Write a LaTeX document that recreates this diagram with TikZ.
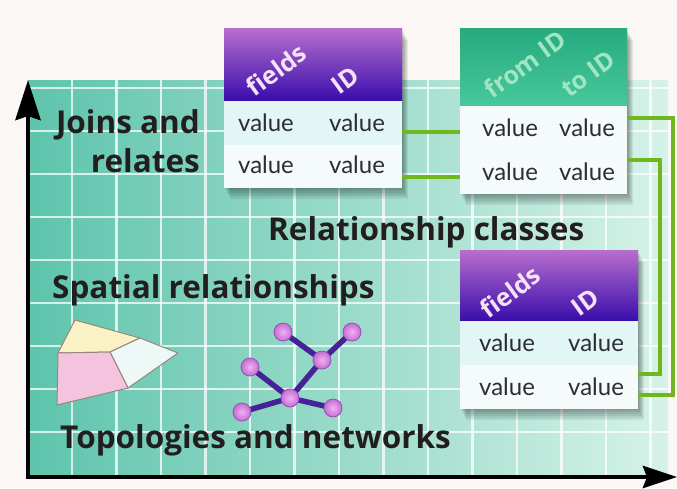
\documentclass[tikz,border=0pt]{standalone}
\usepackage{fontspec}
\setmainfont{Lato}
\newfontfamily\lblfont{Open Sans}
\usetikzlibrary{arrows.meta,calc}
\definecolor{bgc}{RGB}{251,247,244}
\definecolor{tealL}{RGB}{94,196,172}
\definecolor{tealR}{RGB}{214,242,232}
\definecolor{purTop}{RGB}{184,110,206}
\definecolor{purBot}{RGB}{58,14,172}
\definecolor{grnTop}{RGB}{40,170,128}
\definecolor{grnBot}{RGB}{70,200,155}
\definecolor{rowA}{RGB}{226,246,246}
\definecolor{rowB}{RGB}{244,251,250}
\definecolor{connG}{RGB}{112,182,28}
\definecolor{txtD}{RGB}{34,30,30}
\definecolor{valT}{RGB}{45,45,50}
\definecolor{netL}{RGB}{70,34,150}
\definecolor{ballC}{RGB}{242,176,242}
\definecolor{ballO}{RGB}{196,110,210}
\definecolor{ballE}{RGB}{150,80,180}
\definecolor{polyE}{RGB}{150,135,125}
\tikzset{
  gridline/.style={draw=white, opacity=0.75, line width=2.2pt},
  lbl/.style={font=\lblfont\fontsize{31.5}{39}\selectfont\bfseries, text=txtD, inner sep=0pt},
  hdrP/.style={top color=purTop, bottom color=purBot, inner sep=0pt, anchor=north west},
  hdrG/.style={top color=grnTop, bottom color=grnBot, inner sep=0pt, anchor=north west},
  rowa/.style={fill=rowA, inner sep=0pt, anchor=north west},
  rowb/.style={fill=rowB, inner sep=0pt, anchor=north west},
  valtxt/.style={font=\fontsize{24}{26}\selectfont, text=valT, inner sep=0pt},
  hdtxtP/.style={font=\lblfont\fontsize{25}{26}\selectfont\bfseries, text={rgb,255:red,246;green,226;blue,246}, inner sep=0pt, rotate=36},
  hdtxtG/.style={font=\lblfont\fontsize{25}{26}\selectfont\bfseries, text={rgb,255:red,160;green,230;blue,195}, inner sep=0pt, rotate=36},
  conn/.style={draw=connG, line width=4pt},
  axisline/.style={draw=black, line width=4.5pt},
  netedge/.style={draw=netL, line width=5.5pt, line cap=round},
  netball/.style={circle, minimum size=18pt, inner sep=0pt, inner color=ballC, outer color=ballO, draw=ballE, line width=0.8pt},
  poly/.style={draw=polyE, line width=1pt, line join=round},
}
\begin{document}
\begin{tikzpicture}[x=1pt,y=-1pt]
\useasboundingbox (0,0) rectangle (677,488);
\fill[bgc] (0,0) rectangle (677,488);
% teal grid area
\shade[left color=tealL, right color=tealR] (28,80) rectangle (668,478);
\foreach \gx in {72,116.5,161,205.5,250,294.5,339,383.5,428,472.5,517,561.5,606,650.5}
  \draw[gridline] (\gx,80) -- (\gx,476);
\foreach \gy in {88,131,174,217,260,303,346,389,432}
  \draw[gridline] (30,\gy) -- (668,\gy);
% axes
\draw[axisline, {Stealth[length=40pt,width=25pt,inset=4pt]}-{Stealth[length=34pt,width=22pt,inset=4pt]}]
  (28,80) -- (28,477) -- (677,477);
% labels
\node[lbl, align=right, anchor=base east] (joins) at (200,172) {Joins and\\relates};
\node[lbl, anchor=base west] (relcls) at (268,240) {Relationship classes};
\node[lbl, anchor=base west] (spatial) at (52,298) {Spatial relationships};
\node[lbl, anchor=base west] (topo) at (60,448) {Topologies and networks};
% polygons
\filldraw[poly, fill={rgb,255:red,250;green,242;blue,196}] (75,320) -- (140,338) -- (110,352) -- (58,353) -- cycle;
\filldraw[poly, fill={rgb,255:red,238;green,248;blue,246}] (140,338) -- (178,353) -- (128,388) -- (110,352) -- cycle;
\filldraw[poly, fill={rgb,255:red,244;green,196;blue,222}] (58,353) -- (110,352) -- (128,388) -- (57,405) -- cycle;
% network
\coordinate (pa) at (283,332);
\coordinate (pb) at (352,332);
\coordinate (pc) at (322,360);
\coordinate (pd) at (250,367);
\coordinate (pe) at (290,398);
\coordinate (pf) at (242,412);
\coordinate (pg) at (333,408);
\draw[netedge] (pa) -- (pc) (pb) -- (pc) (pc) -- (pe) (pd) -- (pe) (pe) -- (pf) (pe) -- (pg);
\node[netball] (na) at (pa) {};
\node[netball] (nb) at (pb) {};
\node[netball] (nc) at (pc) {};
\node[netball] (nd) at (pd) {};
\node[netball] (ne) at (pe) {};
\node[netball] (nf) at (pf) {};
\node[netball] (ng) at (pg) {};
% table shadows
\foreach \s in {2,4,6,8,10,12}{
  \fill[black, opacity=0.07] (224+\s*0.5,28+\s) rectangle (402+\s*0.5,187+\s);
  \fill[black, opacity=0.07] (460+\s*0.5,28+\s) rectangle (627+\s*0.5,193+\s);
  \fill[black, opacity=0.07] (460+\s*0.5,250+\s) rectangle (638+\s*0.5,408+\s);
}
% table 1
\node[hdrP, minimum width=178pt, minimum height=72pt] (t1h) at (224,28) {};
\node[rowa, minimum width=178pt, minimum height=44pt] (t1r1) at (t1h.south west) {};
\node[rowb, minimum width=178pt, minimum height=43pt] (t1r2) at (t1r1.south west) {};
\node[hdtxtP] (t1f) at (276,70) {fields};
\node[hdtxtP] (t1i) at (345,80) {ID};
\node[valtxt] (t1a) at (266,123) {value};
\node[valtxt] (t1b) at (357,123) {value};
\node[valtxt] (t1c) at (266,165) {value};
\node[valtxt] (t1d) at (357,165) {value};
% table 2
\node[hdrG, minimum width=167pt, minimum height=77pt] (t2h) at (460,28) {};
\node[rowb, minimum width=167pt, minimum height=44pt] (t2r1) at (t2h.south west) {};
\node[rowb, minimum width=167pt, minimum height=44pt] (t2r2) at (t2r1.south west) {};
\node[hdtxtG] (t2f) at (525,64) {from ID};
\node[hdtxtG] (t2t) at (588,74) {to ID};
\node[valtxt] (t2a) at (510,128) {value};
\node[valtxt] (t2b) at (587,128) {value};
\node[valtxt] (t2c) at (510,172) {value};
\node[valtxt] (t2d) at (587,172) {value};
% table 3
\node[hdrP, minimum width=178pt, minimum height=70pt] (t3h) at (460,250) {};
\node[rowa, minimum width=178pt, minimum height=44pt] (t3r1) at (t3h.south west) {};
\node[rowb, minimum width=178pt, minimum height=44pt] (t3r2) at (t3r1.south west) {};
\node[hdtxtP] (t3f) at (510,292) {fields};
\node[hdtxtP] (t3i) at (585,302) {ID};
\node[valtxt] (t3a) at (507,343) {value};
\node[valtxt] (t3b) at (596,343) {value};
\node[valtxt] (t3c) at (507,387) {value};
\node[valtxt] (t3d) at (596,387) {value};
% connectors
\draw[conn] ([yshift=-9pt]t1r1.east) -- ([yshift=-9pt]t1r1.east -| t2r1.west);
\draw[conn] ([yshift=-10pt]t1r2.east) -- ([yshift=-10pt]t1r2.east -| t2r2.west);
\draw[conn] ([yshift=10pt]t2r1.east) -- ++(46,0) |- ([yshift=-8pt]t3r2.east);
\draw[conn] ([yshift=12pt]t2r2.east) -- ++(33,0) |- ([yshift=13pt]t3r2.east);
\end{tikzpicture}
\end{document}
